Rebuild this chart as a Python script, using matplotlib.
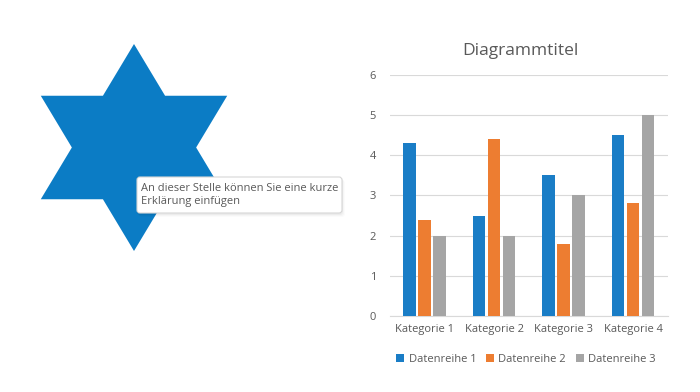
import numpy as np
import matplotlib
matplotlib.use("Agg")
import matplotlib.pyplot as plt
from matplotlib.patches import Polygon, FancyBboxPatch

# === DATEN ===
kategorien = ["Kategorie 1", "Kategorie 2", "Kategorie 3", "Kategorie 4"]
reihen = ["Datenreihe 1", "Datenreihe 2", "Datenreihe 3"]
reihe1 = [4.3, 2.5, 3.5, 4.5]
reihe2 = [2.4, 4.4, 1.8, 2.8]
reihe3 = [2.0, 2.0, 3.0, 5.0]
y_ticks = [0, 1, 2, 3, 4, 5, 6]

titel = "Diagrammtitel"
hinweis = "An dieser Stelle können Sie eine kurze\nErklärung einfügen"

farben = ["#1A7DC6", "#ED7D31", "#A5A5A5"]
stern_farbe = "#0B7CC5"
text_grau = "#595959"
gitter = "#D9D9D9"

plt.rcParams["font.family"] = ["Open Sans", "DejaVu Sans"]

fig = plt.figure(figsize=(7, 3.92), dpi=100)

# === Hintergrund-Ebene (Stern + Hinweisbox) in Pixelkoordinaten ===
bg = fig.add_axes([0, 0, 1, 1])
bg.set_xlim(0, 700)
bg.set_ylim(392, 0)
bg.axis("off")

# Hexagramm aus Mittelpunkt und Radius (leicht in die Breite gezogen)
cx, cy, R, sx = 134, 147.5, 103.5, 1.04
r = R / np.sqrt(3)
punkte = []
for i in range(12):
    winkel = np.deg2rad(90 + i * 30)
    rad = R if i % 2 == 0 else r
    punkte.append((cx + sx * rad * np.cos(winkel), cy - rad * np.sin(winkel)))
bg.add_patch(Polygon(punkte, closed=True, fc=stern_farbe, ec="none"))

# Hinweisbox mit leichtem Schatten
for k, a in enumerate([0.035, 0.025, 0.015]):
    bg.add_patch(FancyBboxPatch((137 + k, 178 + k), 206, 37,
                                boxstyle="round,pad=0,rounding_size=3",
                                fc="black", ec="none", alpha=a))
bg.add_patch(FancyBboxPatch((137, 177), 205, 36,
                            boxstyle="round,pad=0,rounding_size=3",
                            fc="white", ec="#D6D6D6", lw=0.8))
bg.text(141, 195, hinweis, fontsize=8, color=text_grau, va="center",
        ha="left", linespacing=1.25)

# === Säulendiagramm ===
ax = fig.add_axes([0.557, 0.194, 0.397, 0.615])
x = np.arange(len(kategorien))
breite = 0.18
abstand = 0.216
for i, (werte, name) in enumerate(zip([reihe1, reihe2, reihe3], reihen)):
    ax.bar(x + (i - 1) * abstand, werte, breite, color=farben[i], label=name,
           zorder=3)

ax.set_xlim(-0.5, len(kategorien) - 0.5)
ax.set_ylim(0, 6)
ax.set_yticks(y_ticks)
ax.set_xticks(x)
ax.set_xticklabels(kategorien)
ax.tick_params(length=0, colors=text_grau, labelsize=8)
ax.tick_params(axis="y", pad=10)
ax.tick_params(axis="x", pad=6)
ax.grid(axis="y", color=gitter, lw=0.8, zorder=0)
for s in ["top", "right", "left"]:
    ax.spines[s].set_visible(False)
ax.spines["bottom"].set_color(gitter)
ax.spines["bottom"].set_linewidth(0.8)

ax.set_title(titel, fontsize=12.5, color=text_grau, pad=14, x=0.47)

ax.legend(loc="upper center", bbox_to_anchor=(0.49, -0.115), ncol=3,
          frameon=False, fontsize=8, handlelength=0.7, handleheight=0.7,
          handletextpad=0.4, columnspacing=0.9, labelcolor=text_grau)

fig.savefig("out.png", dpi=100)
